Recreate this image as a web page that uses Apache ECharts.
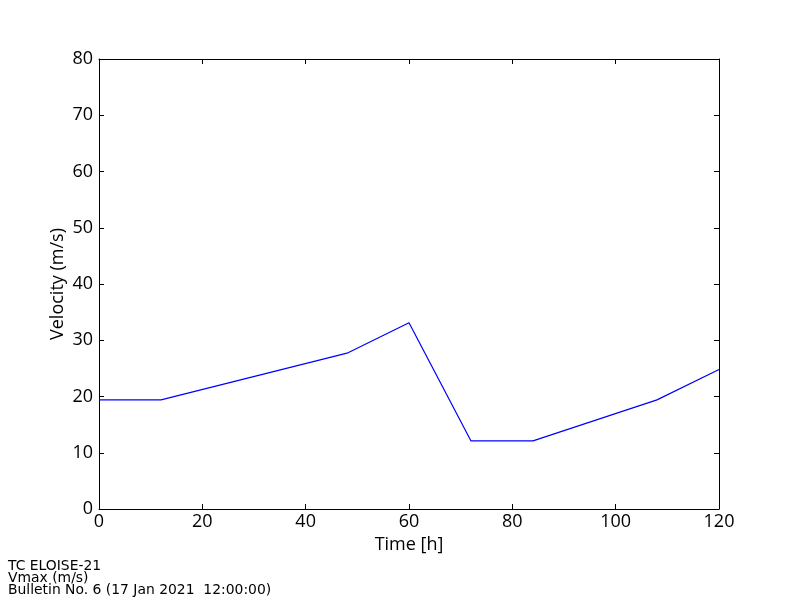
<!DOCTYPE html>
<html><head><meta charset="utf-8">
<script src="https://cdn.jsdelivr.net/npm/echarts@6/dist/echarts.min.js"></script>
<style>html,body{margin:0;padding:0;background:#fff}#c{width:800px;height:600px}</style>
</head><body><div id="c"></div>
<script>
const timeH = [0, 12, 48, 60, 72, 84, 108, 120];
const vmax = [19.4, 19.4, 27.7, 33.1, 12.1, 12.1, 19.4, 24.8];
const footerLines = ['TC ELOISE-21', 'Vmax (m/s)', 'Bulletin No. 6 (17 Jan 2021  12:00:00)'];
const yTitle = 'Velocity (m/s)';

const chart = echarts.init(document.getElementById('c'), null, {renderer: 'canvas'});
const font = 'Open Sans';
const axisLine = {show: true, onZero: false, lineStyle: {color: '#000', width: 1}};
const tick = {show: true, inside: true, length: 5, lineStyle: {color: '#000'}};
chart.setOption({
  animation: false,
  grid: {left: 99, right: 81, top: 59, bottom: 91, show: false},
  xAxis: [
    {type: 'value', min: 0, max: 120, interval: 20, position: 'bottom',
     name: 'Time [h]', nameLocation: 'middle', nameGap: 26,
     nameTextStyle: {fontFamily: font, fontSize: 18, color: '#000'},
     axisLine, axisTick: tick, splitLine: {show: false},
     axisLabel: {fontFamily: font, fontSize: 18, color: '#000', margin: 4}},
    {type: 'value', min: 0, max: 120, interval: 20, position: 'top',
     axisLine, axisTick: tick, splitLine: {show: false}, axisLabel: {show: false}}
  ],
  yAxis: [
    {type: 'value', min: 0, max: 80, interval: 10, position: 'left',
     axisLine, axisTick: tick, splitLine: {show: false},
     axisLabel: {fontFamily: font, fontSize: 18, color: '#000', margin: 6}},
    {type: 'value', min: 0, max: 80, interval: 10, position: 'right',
     axisLine, axisTick: tick, splitLine: {show: false}, axisLabel: {show: false}}
  ],
  series: [{
    type: 'line', data: timeH.map((t, i) => [t, vmax[i]]),
    showSymbol: false, symbol: 'none',
    lineStyle: {color: '#0000ff', width: 1.2}
  }],
  graphic: [{
    type: 'text', left: 8, top: 559,
    style: {text: footerLines.join('\n'), fontFamily: 'DejaVu Sans', fontSize: 13.9, lineHeight: 12, fill: '#000'}
  }, {
    type: 'text', x: 58, y: 284, rotation: Math.PI / 2,
    style: {text: yTitle, fontFamily: font, fontSize: 18, fill: '#000', align: 'center', verticalAlign: 'middle'}
  }]
});
</script></body></html>
